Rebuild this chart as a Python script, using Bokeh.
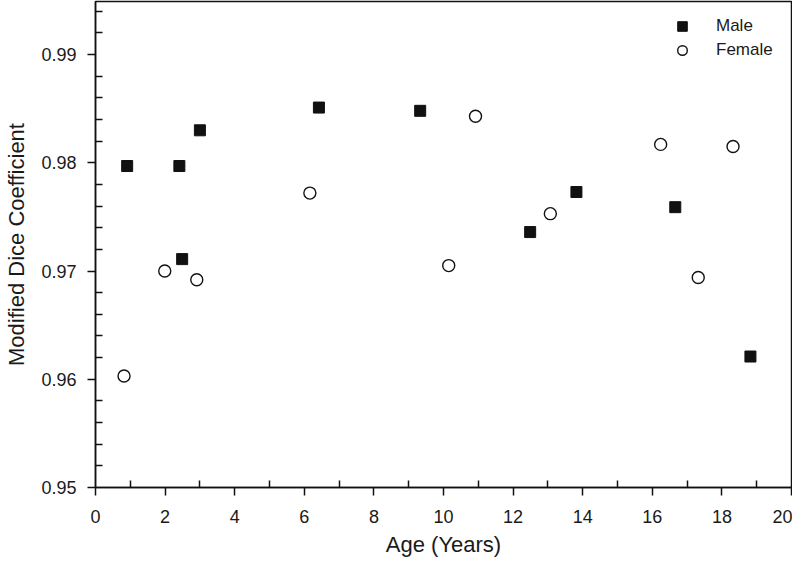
from bokeh.plotting import figure
from bokeh.models import (FixedTicker, PrintfTickFormatter, Range1d, Legend, LegendItem,
                          ColumnDataSource)
from bokeh.embed import file_html
from bokeh.resources import INLINE

# ---- data ----
male_age = [0.91, 2.41, 2.49, 3.00, 6.42, 9.33, 12.49, 13.82, 16.66, 18.82]
male_dice = [0.9797, 0.9797, 0.9711, 0.9830, 0.9851, 0.9848, 0.9736, 0.9773, 0.9759, 0.9621]
female_age = [0.82, 1.99, 2.91, 6.16, 10.15, 10.92, 13.07, 16.24, 17.32, 18.32]
female_dice = [0.9603, 0.9700, 0.9692, 0.9772, 0.9705, 0.9843, 0.9753, 0.9817, 0.9694, 0.9815]

x_ticks = [0, 2, 4, 6, 8, 10, 12, 14, 16, 18, 20]
x_minor = [1, 3, 5, 7, 9, 11, 13, 15, 17, 19]
y_ticks = [0.95, 0.96, 0.97, 0.98, 0.99]
y_minor = [0.952, 0.954, 0.956, 0.958, 0.962, 0.964, 0.966, 0.968,
           0.972, 0.974, 0.976, 0.978, 0.982, 0.984, 0.986, 0.988,
           0.992, 0.994]

FONT = "Liberation Sans"
TXT = "#1a1a1a"

p = figure(width=792, height=560, output_backend="svg", toolbar_location=None,
           x_range=Range1d(0, 20), y_range=Range1d(0.95, 0.9949),
           min_border_left=95, min_border_right=1, min_border_top=1, min_border_bottom=73)

p.background_fill_color = "white"
p.border_fill_color = "white"
p.outline_line_color = "#111111"
p.outline_line_width = 1.5
p.xgrid.visible = False
p.ygrid.visible = False

src_m = ColumnDataSource(dict(x=male_age, y=male_dice))
src_f = ColumnDataSource(dict(x=female_age, y=female_dice))
rm = p.scatter("x", "y", source=src_m, marker="square", size=11,
               fill_color="#111111", line_color="#111111", line_width=1)
rf = p.scatter("x", "y", source=src_f, marker="circle", size=12,
               fill_color="white", line_color="#111111", line_width=1.4)

for ax in (p.xaxis[0], p.yaxis[0]):
    ax.axis_line_color = "#111111"
    ax.axis_line_width = 1.5
    ax.major_tick_line_color = "#111111"
    ax.minor_tick_line_color = "#111111"
    ax.major_tick_line_width = 1.5
    ax.minor_tick_line_width = 1.5
    ax.major_tick_out = 8
    ax.major_tick_in = 0
    ax.minor_tick_out = 0
    ax.minor_tick_in = 7
    ax.major_label_text_font = FONT
    ax.major_label_text_font_size = "18px"
    ax.major_label_text_color = TXT
    ax.axis_label_text_font = FONT
    ax.axis_label_text_font_size = "22px"
    ax.axis_label_text_font_style = "normal"
    ax.axis_label_text_color = TXT

p.xaxis.ticker = FixedTicker(ticks=x_ticks, minor_ticks=x_minor)
p.yaxis.ticker = FixedTicker(ticks=y_ticks, minor_ticks=y_minor)
p.yaxis.formatter = PrintfTickFormatter(format="%.2f")
p.xaxis.major_label_standoff = 14
p.yaxis.major_label_standoff = 11
p.xaxis.axis_label = "Age (Years)"
p.yaxis.axis_label = "Modified Dice Coefficient"
p.xaxis.axis_label_standoff = 6
p.yaxis.axis_label_standoff = 9

legend = Legend(items=[LegendItem(label="Male", renderers=[rm]),
                       LegendItem(label="Female", renderers=[rf])],
                location=(575, 425), padding=0, margin=0, spacing=0,
                glyph_width=24, glyph_height=24, label_height=24,
                label_standoff=22, border_line_color=None,
                background_fill_alpha=0,
                label_text_font=FONT, label_text_font_size="17px",
                label_text_color=TXT)
p.add_layout(legend, "center")

open("out.html", "w").write(file_html(p, INLINE))
